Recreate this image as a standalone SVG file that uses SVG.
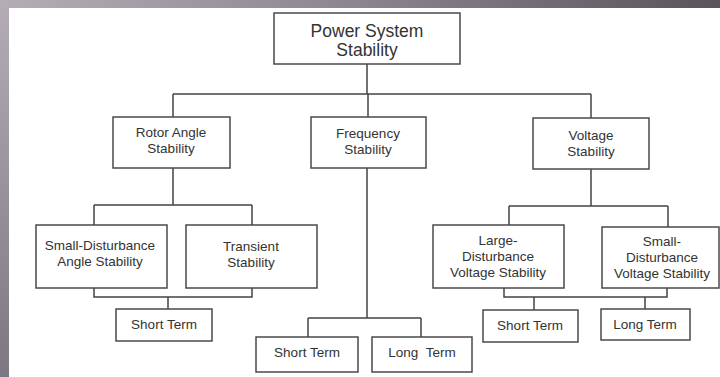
<svg xmlns="http://www.w3.org/2000/svg" width="720" height="377" viewBox="0 0 720 377">
<defs>
<linearGradient id="gTop" x1="0" y1="0" x2="1" y2="0">
<stop offset="0" stop-color="#b4adb6"/>
<stop offset="0.5" stop-color="#8c8590"/>
<stop offset="1" stop-color="#5a535c"/>
</linearGradient>
<linearGradient id="gLeft" x1="0" y1="0" x2="0" y2="1">
<stop offset="0" stop-color="#b4adb6"/>
<stop offset="1" stop-color="#7d7783"/>
</linearGradient>
<style>
.box{fill:#ffffff;stroke:#4a4a4a;stroke-width:1.5}
.ln{fill:none;stroke:#444444;stroke-width:1.5}
text{font-family:"Liberation Sans",Arial,sans-serif;fill:#333333;text-anchor:middle}
.t{font-size:13.5px}
.tr{font-size:17.5px}
</style>
</defs>
<rect x="0" y="0" width="720" height="377" fill="#ffffff"/>
<rect x="0" y="0" width="720" height="8" fill="url(#gTop)"/>
<rect x="0" y="0" width="9" height="377" fill="url(#gLeft)"/>

<g id="connectors" class="ln">
<path d="M367,64V94M173,94H591M173,94V117M368,94V117M591,94V118"/>
<path d="M173,168V205M94,205H252M94,205V225M252,205V225"/>
<path d="M94,288V297H252V288M168,297V309"/>
<path d="M367,168V318M308,318H421M308,318V337M421,318V337"/>
<path d="M591,169V206M509,206H668M509,206V225M668,206V227"/>
<path d="M504,288V297H667V288M534,297V310M645,297V309"/>
</g>

<g id="root"><rect class="box" x="274" y="13" width="186" height="51"/>
<text class="tr" x="367" y="37">Power System</text><text class="tr" x="367" y="56">Stability</text></g>

<g id="rotor"><rect class="box" x="113" y="117" width="117" height="51"/>
<text class="t" x="171" y="137">Rotor Angle</text><text class="t" x="171" y="153">Stability</text></g>

<g id="frequency"><rect class="box" x="311" y="117" width="115" height="51"/>
<text class="t" x="368" y="138">Frequency</text><text class="t" x="368" y="154">Stability</text></g>

<g id="voltage"><rect class="box" x="533" y="118" width="116" height="51"/>
<text class="t" x="591" y="140">Voltage</text><text class="t" x="591" y="156">Stability</text></g>

<g id="small-angle"><rect class="box" x="36" y="225" width="131" height="63"/>
<text class="t" x="100" y="250">Small-Disturbance</text><text class="t" x="100" y="266">Angle Stability</text></g>

<g id="transient"><rect class="box" x="186" y="225" width="131" height="63"/>
<text class="t" x="251" y="251">Transient</text><text class="t" x="251" y="267">Stability</text></g>

<g id="large-voltage"><rect class="box" x="433" y="225" width="131" height="63"/>
<text class="t" x="498" y="245">Large-</text><text class="t" x="498" y="261">Disturbance</text><text class="t" x="498" y="277">Voltage Stability</text></g>

<g id="small-voltage"><rect class="box" x="602" y="227" width="117" height="61"/>
<text class="t" x="662" y="246">Small-</text><text class="t" x="662" y="262">Disturbance</text><text class="t" x="662" y="278">Voltage Stability</text></g>

<g id="rotor-short"><rect class="box" x="116" y="309" width="96" height="32"/>
<text class="t" x="164" y="329">Short Term</text></g>

<g id="freq-short"><rect class="box" x="256" y="337" width="102" height="35"/>
<text class="t" x="307" y="357">Short Term</text></g>

<g id="freq-long"><rect class="box" x="372" y="337" width="100" height="35"/>
<text class="t" x="422" y="357" xml:space="preserve">Long  Term</text></g>

<g id="volt-short"><rect class="box" x="483" y="310" width="95" height="32"/>
<text class="t" x="530" y="330">Short Term</text></g>

<g id="volt-long"><rect class="box" x="601" y="309" width="89" height="31"/>
<text class="t" x="645" y="329">Long Term</text></g>
</svg>
